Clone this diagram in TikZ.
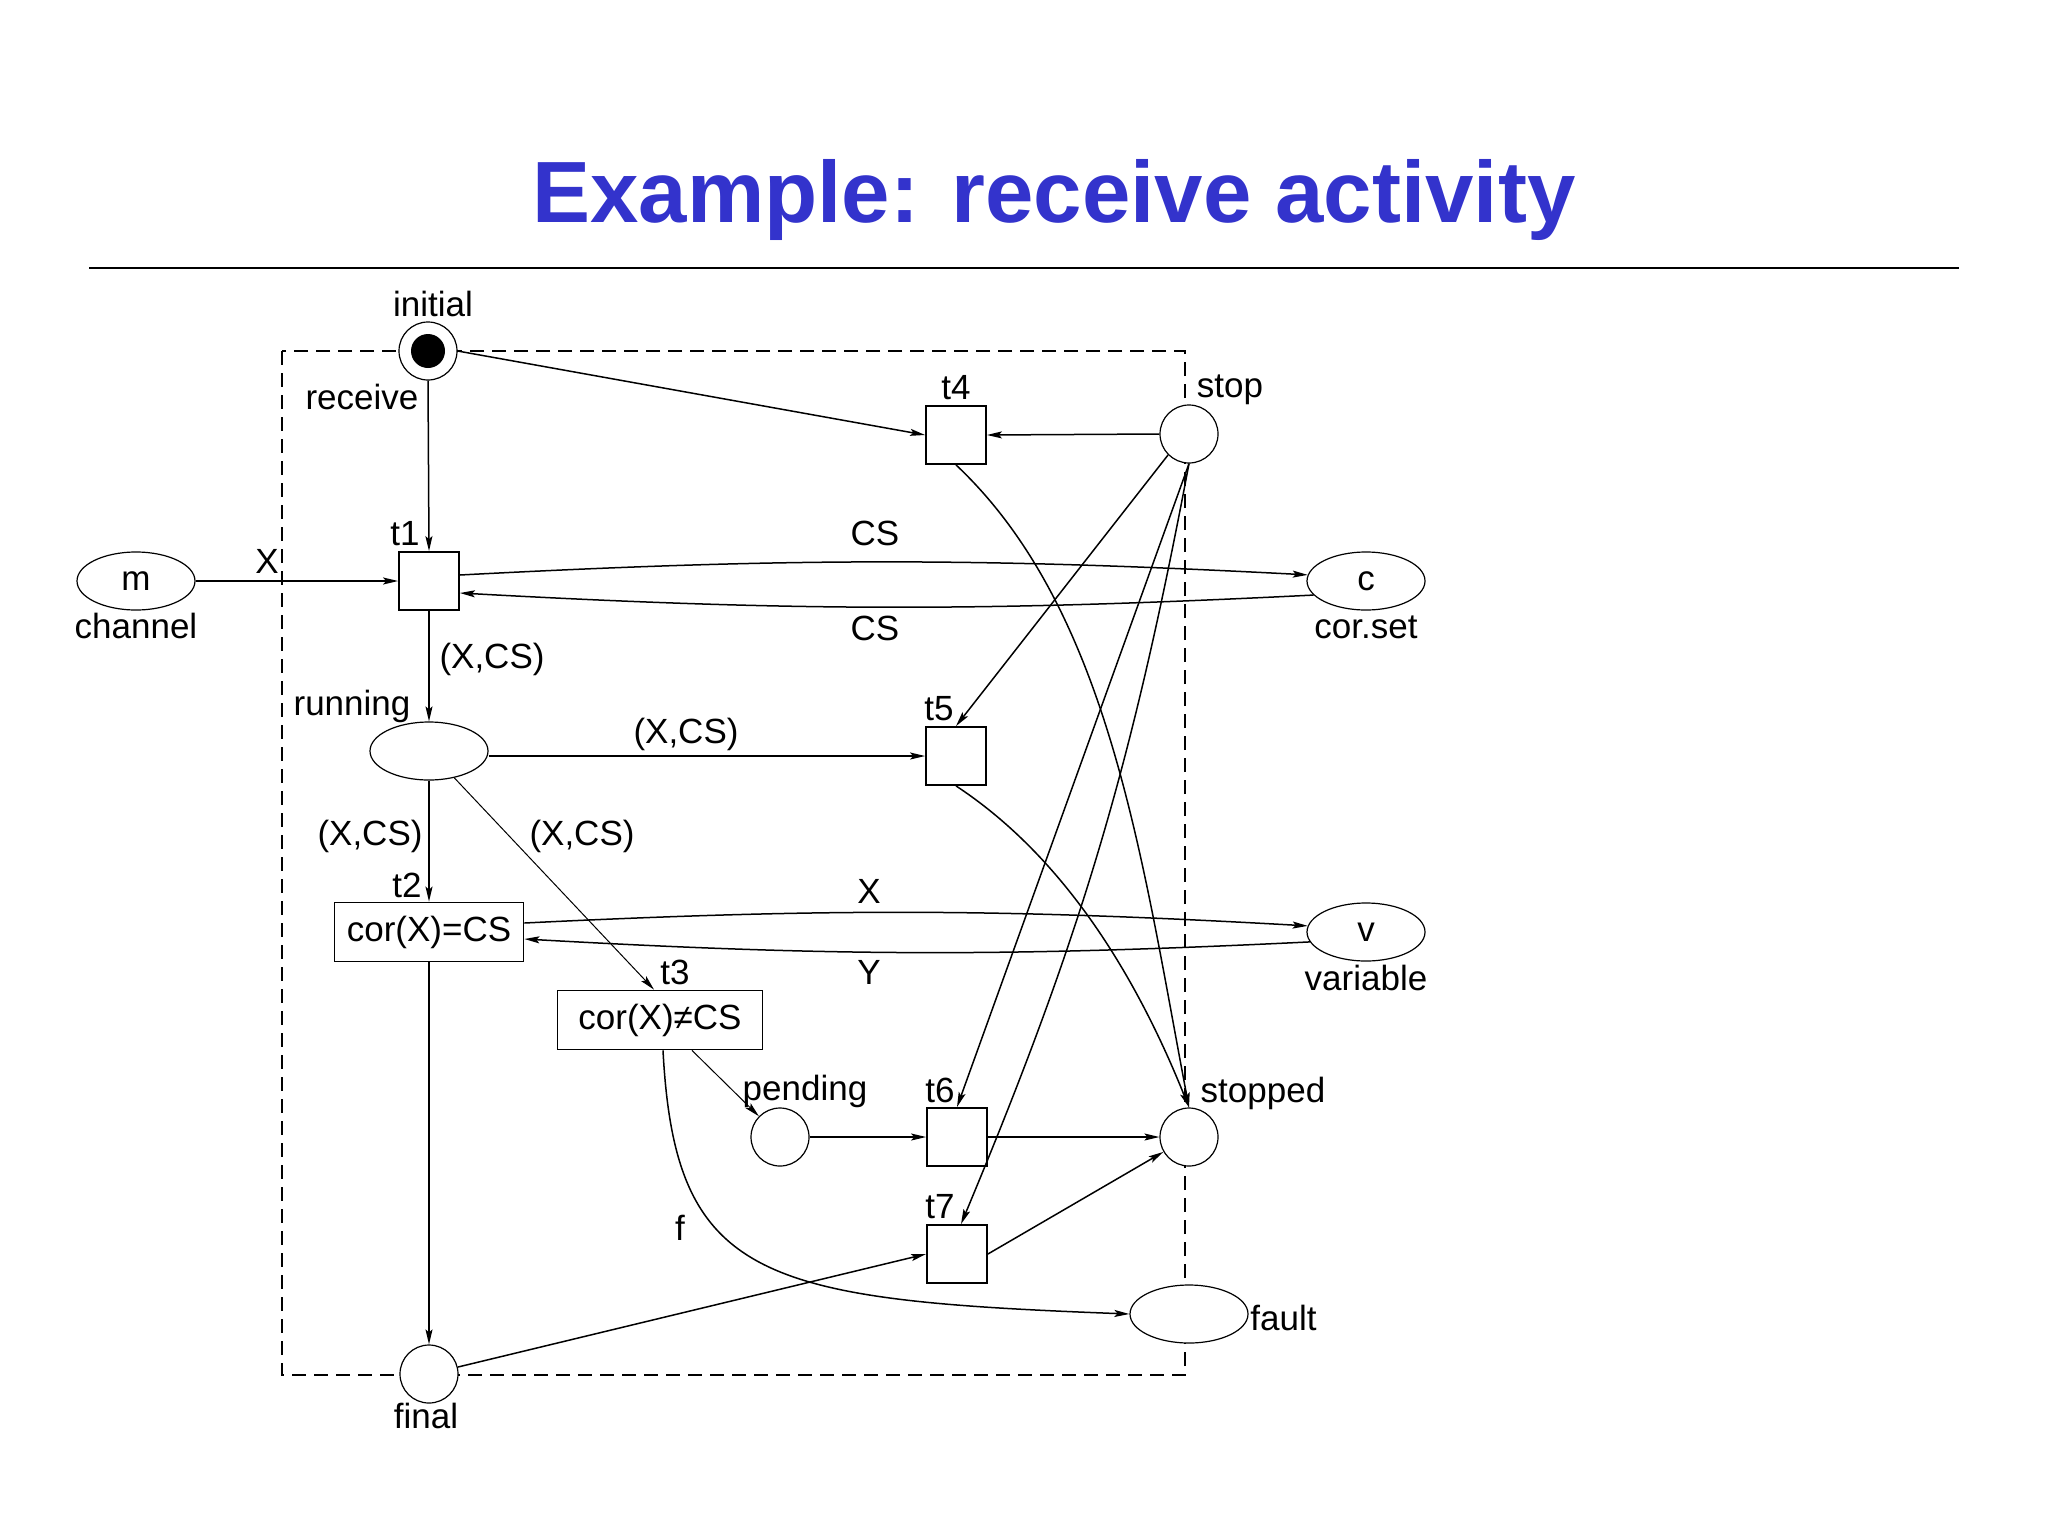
\documentclass[tikz,border=0pt]{standalone}
\usepackage{fontspec}
\setmainfont{Liberation Sans}
\usetikzlibrary{shapes.geometric,arrows.meta,calc}
\definecolor{titleblue}{RGB}{51,51,204}
\begin{document}
\begin{tikzpicture}[x=0.5pt,y=-0.5pt,
  every node/.style={font=\fontsize{17.5}{21}\selectfont},
  place/.style={circle,draw,line width=0.6pt,fill=white,minimum size=29pt,inner sep=0pt},
  oval/.style={ellipse,draw,line width=0.6pt,fill=white,minimum width=59pt,minimum height=29pt,inner sep=0pt},
  trans/.style={rectangle,draw,line width=0.9pt,fill=white,minimum width=30pt,minimum height=29pt,inner sep=0pt},
  guard/.style={rectangle,draw,line width=0.9pt,fill=white,minimum height=29.5pt,inner sep=0pt},
  tokenstyle/.style={circle,fill=black,minimum size=17pt,inner sep=0pt},
  lbl/.style={anchor=base,inner sep=0pt},
  arc/.style={draw,line width=0.75pt,-{Stealth[length=7.5pt,width=3.5pt,inset=1.5pt]}},
  thinarc/.style={arc,line width=0.5pt},
  boxline/.style={dash pattern=on 7pt off 4pt,line width=0.75pt},
]
\useasboundingbox (0,0) rectangle (2048,1536);
\fill[white] (0,0) rectangle (2048,1536);

% title and rule
\node[font=\fontsize{43.5}{50}\selectfont\bfseries,text=titleblue,anchor=base,inner sep=0pt] (title) at (1054,222) {Example: receive activity};
\coordinate (ruleL) at (89,268);
\coordinate (ruleR) at (1959,268);
\draw[line width=1.4pt] (ruleL) -- (ruleR);

% dashed boundary of the activity
\draw[boxline] (282,351) rectangle (1185,1375);

% places and transitions
\node[place] (initial) at (428,351) {};
\node[tokenstyle] (token) at (initial) {};
\node[trans] (t4) at (956,435) {};
\node[place] (stop) at (1189,434) {};
\node[trans] (t1) at (429,581) {};
\node[oval] (m) at (136,581) {m};
\node[oval] (c) at (1366,581) {c};
\node[oval] (running) at (429,751) {};
\node[trans] (t5) at (956,756) {};
\node[guard,minimum width=94.5pt] (t2) at (429,932) {cor(X)=CS};
\node[oval] (v) at (1366,932) {v};
\node[guard,minimum width=102.5pt] (t3) at (660,1020) {cor(X)≠CS};
\node[place] (pending) at (780,1137) {};
\node[trans] (t6) at (957,1137) {};
\node[place] (stopped) at (1189,1137) {};
\node[trans] (t7) at (957,1254) {};
\node[oval] (fault) at (1189,1314) {};
\node[place] (final) at (429,1374) {};

% labels
\node[lbl] (linitial) at (433,316) {initial};
\node[lbl] (lreceive) at (362,409) {receive};
\node[lbl] (lt1) at (405,545) {t1};
\node[lbl] (lX1) at (267,573) {X};
\node[lbl] (lchannel) at (136,638) {channel};
\node[lbl] (lCS1) at (875,545) {CS};
\node[lbl] (lCS2) at (875,640) {CS};
\node[lbl] (lcorset) at (1366,638) {cor.set};
\node[lbl] (lxcs1) at (492,668) {(X,CS)};
\node[lbl] (lrunning) at (352,715) {running};
\node[lbl] (lstop) at (1230,397) {stop};
\node[lbl] (lt4) at (956,399) {t4};
\node[lbl] (lt5) at (939,720) {t5};
\node[lbl] (lxcs2) at (686,743) {(X,CS)};
\node[lbl] (lxcs3) at (370,845) {(X,CS)};
\node[lbl] (lxcs4) at (582,845) {(X,CS)};
\node[lbl] (lt2) at (407,897) {t2};
\node[lbl] (lX2) at (869,903) {X};
\node[lbl] (lY) at (869,984) {Y};
\node[lbl] (lt3) at (675,984) {t3};
\node[lbl] (lvariable) at (1366,990) {variable};
\node[lbl] (lstopped) at (1263,1102) {stopped};
\node[lbl] (lt6) at (940,1102) {t6};
\node[lbl] (lt7) at (940,1218) {t7};
\node[lbl] (lpending) at (805,1100) {pending};
\node[lbl] (lf) at (680,1240) {f};
\node[lbl,anchor=base west] (lfault) at (1250,1330) {fault};
\node[lbl] (lfinal) at (426,1428) {final};

% arcs
\draw[arc] (initial.south) -- (t1.north);
\draw[arc] (initial.east) -- (t4.west);
\draw[arc] (stop.west) -- (t4.east);
\draw[arc] (t4.south) .. controls (1110,610) and (1142,861) .. (stopped.north);
\draw[arc] (stop.south west) -- (t5.north);
\draw[arc] (t5.south) .. controls (1058,853) and (1132,965) .. (stopped.north);
\draw[arc] (stop.south) -- (t6.north);
\draw[arc] (stop.south) to[bend left=6] ([xshift=2pt]t7.north);
\draw[arc] (t6.east) -- (stopped.west);
\draw[arc] (t7.east) -- (stopped);
\draw[arc] (pending.east) -- (t6.west);
\draw[thinarc] ([xshift=16pt]t3.south) -- (pending);
\draw[thinarc] (running) -- ([xshift=-3pt]t3.north);
\draw[arc] (running.south) -- (t2.north);
\draw[arc] (running.east |- t5.west) -- (t5.west);
\draw[arc] (t1.south) -- (running.north);
\draw[arc] (m.east) -- (t1.west);
\draw[arc] ([yshift=3pt]t1.east) to[bend left=3] (c.174);
\draw[arc] (c.195) to[bend left=3] ([yshift=-6pt]t1.east);
\draw[arc] ([yshift=4.5pt]t2.east) to[bend left=3] (v.174);
\draw[arc] (v.190) to[bend left=3] ([yshift=-3.5pt]t2.east);
\draw[arc] (t2.south) -- (final.north);
\draw[arc] (final) -- (t7.west);
\draw[arc] ([xshift=1.5pt]t3.south) .. controls (675,1280) and (760,1300) .. (fault.west);
\end{tikzpicture}
\end{document}
